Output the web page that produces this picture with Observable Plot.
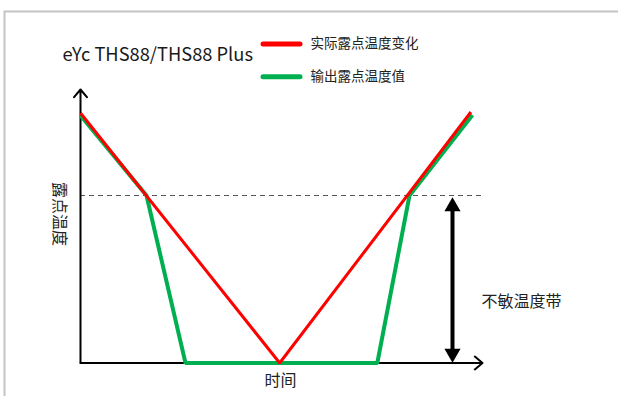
<!DOCTYPE html>
<html>
<head>
<meta charset="utf-8">
<script src="https://cdn.jsdelivr.net/npm/d3@7"></script>
<script src="https://cdn.jsdelivr.net/npm/@observablehq/plot@0.6"></script>
<style>
  html, body { margin: 0; padding: 0; background: #fff; overflow: hidden; }
  #chart svg { display: block; }
</style>
</head>
<body>
<div id="chart"></div>
<script>
// ---- Data (schematic units: time 0–100, temperature 0–100) ----
const title = "eYc THS88/THS88 Plus";
const seriesNames = ["实际露点温度变化", "输出露点温度值"];
const seriesColors = ["#ff0000", "#00b050"];

// actual dew point: falls to minimum then rises
const actualTime = [0, 49.8, 97.6];
const actualTemp = [100, 0, 100.4];

// output dew point: follows until the insensitive band, then drops/flat, then rises
const outputTime = [0, 16.5, 26.25, 74.2, 82.25, 98];
const outputTemp = [99, 67, 0, 0, 67, 99.2];

const bandTop = 67;         // upper edge of insensitive band (dashed line)
const bandLabel = "不敏温度带";
const xLabel = "时间";
const yLabel = "露点温度";
const bandArrowTime = 93;
const axisEndTime = 100.5;
const axisEndTemp = 109.4;

// ---- Build tables ----
const actual = actualTime.map((t, i) => ({t, v: actualTemp[i]}));
const output = outputTime.map((t, i) => ({t, v: outputTemp[i]}));
const legend = seriesNames.map((name, i) => ({name, color: seriesColors[i], row: i}));
const legendY = [127.6, 114.5];

const font = "'Noto Sans CJK SC', 'Noto Sans', sans-serif";

const chart = Plot.plot({
  width: 618,
  height: 396,
  margin: 0,
  x: {domain: [0, 100], range: [80, 480], axis: null},
  y: {domain: [0, 100], range: [362.5, 112.5], axis: null},
  style: {fontFamily: font, background: "#fff"},
  marks: [
    // outer border (top & left visible)
    Plot.frame({insetLeft: 4, insetTop: 11, insetRight: -10, insetBottom: -10, stroke: "#c4c4c4", strokeWidth: 2}),
    // dashed band top line
    Plot.ruleY([bandTop], {x1: 0, x2: axisEndTime, stroke: "#555", strokeWidth: 1.2, strokeDasharray: "5,4"}),
    // axes with open arrow heads
    Plot.arrow([{x1: 0, y1: 0, x2: axisEndTime, y2: 0}], {x1: "x1", y1: "y1", x2: "x2", y2: "y2", stroke: "#000", strokeWidth: 2, headAngle: 80, headLength: 7.5}),
    Plot.arrow([{x1: 0, y1: 0, x2: 0, y2: axisEndTemp}], {x1: "x1", y1: "y1", x2: "x2", y2: "y2", stroke: "#000", strokeWidth: 2, headAngle: 80, headLength: 7.5}),
    // series
    Plot.line(output, {x: "t", y: "v", stroke: seriesColors[1], strokeWidth: 4, strokeLinejoin: "miter", strokeLinecap: "butt"}),
    Plot.line(actual, {x: "t", y: "v", stroke: seriesColors[0], strokeWidth: 3, strokeLinejoin: "miter", strokeLinecap: "butt"}),
    // insensitive band double arrow
    Plot.ruleX([bandArrowTime], {y1: bandTop, y2: 0, stroke: "#000", strokeWidth: 4, insetTop: 12, insetBottom: 10}),
    Plot.dot([{t: bandArrowTime, v: bandTop}], {x: "t", y: "v", symbol: "triangle", r: 6, fill: "#000", stroke: "none", dy: 11}),
    Plot.dot([{t: bandArrowTime, v: 0}], {x: "t", y: "v", symbol: "triangle", r: 6, fill: "#000", stroke: "none", rotate: 180, dy: -9.5}),
    Plot.text([bandLabel], {x: bandArrowTime, y: 24.3, dx: 29, text: d => d, textAnchor: "start", fontSize: 16, fill: "#222"}),
    // axis labels
    Plot.text([xLabel], {x: 50, y: 0, dy: 18, text: d => d, fontSize: 16, fill: "#222"}),
    Plot.text([yLabel], {x: 0, y: 59.6, dx: -21, text: d => d, rotate: 90, fontSize: 16, fill: "#222"}),
    // title
    Plot.text([title], {frameAnchor: "top-left", dx: 62, dy: 55, text: d => d, textAnchor: "start", lineAnchor: "middle", fontSize: 18.3, fill: "#1a1a1a"}),
    // legend
    Plot.ruleY(legend, {y: (d) => legendY[d.row], x1: 45.75, x2: 55, stroke: "color", strokeWidth: 5, strokeLinecap: "round"}),
    Plot.text(legend, {y: (d) => legendY[d.row], x: 57.5, text: "name", textAnchor: "start", fontSize: 13.5, fill: "#222"})
  ]
});
document.getElementById("chart").append(chart);
</script>
</body>
</html>
